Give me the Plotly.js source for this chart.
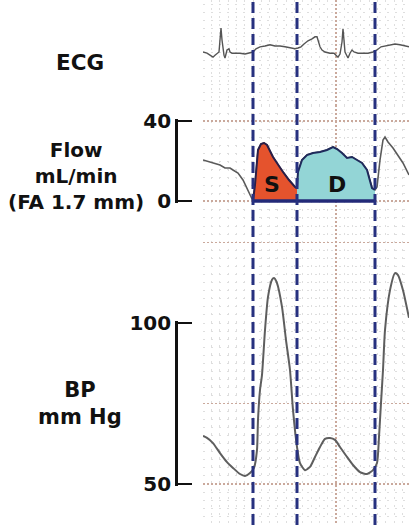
<!DOCTYPE html>
<html><head><meta charset="utf-8">
<script src="https://cdn.plot.ly/plotly-3.0.1.min.js"></script>
<style>html,body{margin:0;padding:0;background:#fff}#chart{width:409px;height:525px}</style>
</head><body><div id="chart"></div>
<script>
// ---------- data (time in arbitrary sample units) ----------
const ecgT = [0,4,7,10,12,14,16,17,18,19,20,21,22,23,24,26,27,29,33,37,42,47,50,53,57,62,67,72,77,82,87,92,95,98,101,105,109,112,114,115,117,119,122,127,131,133,135,137,139,140,141,142,144,145,147,149,151,155,160,165,170,174,178,182,187,192,197,202,206];
const ecgMv = [0,-0.03,-0.08,-0.13,-0.08,-0.03,0,0.30,0.60,0.30,0,-0.08,-0.15,-0.05,0.05,0.08,0,-0.03,-0.03,-0.03,-0.05,-0.03,0,0.08,0.13,0.15,0.18,0.15,0.15,0.13,0.10,0.08,0.10,0.13,0.20,0.28,0.33,0.38,0.38,0.28,0.13,0.05,0,-0.03,-0.03,-0.08,-0.13,-0.05,0.25,0.58,0.30,0,-0.10,-0.15,-0.03,0.05,0,-0.03,-0.03,-0.03,0,0.05,0.13,0.15,0.18,0.20,0.18,0.15,0.13];

const flowT = [0,7,12,17,22,27,30,35,40,45,48,50,52,55,58,61,64,70,75,80,86,92,94,95,99,104,110,117,124,130,134,139,144,149,154,159,164,167,169,172,174,177,180,182,185,190,195,200,206];
const flowMl = [20.5,19.5,19,18,16.5,16.5,15.5,14,10.5,5.5,2,0,8,25.5,28.5,29,28,22,18,14.5,10.5,7,6.5,14.5,20.5,23,24,24.5,25.5,27,26,24,21.5,22,20.5,19,15.5,10.5,6.5,5.5,7,20.5,30.5,32,29.5,26.5,23,19,13];

const bpT = [0,4,10,17,24,30,37,42,47,51,54,55,57,59,62,65,69,71,74,79,83,87,90,94,97,102,107,112,117,122,127,132,137,144,150,157,164,170,174,176,178,180,182,187,192,195,200,205,206];
const bpMmHg = [64.9,64.3,62.7,59.6,56.8,55.0,53.1,52.5,53.4,55.0,60.6,69.9,79.2,83.9,97.8,108.1,113.4,114.0,112.4,105.0,94.7,85.4,73.0,61.5,56.5,54.3,55.3,58.4,61.5,64.0,64.3,63.7,61.5,58.4,55.9,53.7,53.1,54.3,56.5,64.6,75.2,85.4,97.8,110.2,115.5,114.9,110.2,103.1,101.6];

const eventTimes = [50, 94, 172];          // dashed markers: S start, S/D boundary, D end
const flowTicks = [0, 40];
const bpTicks = [50, 100];
const phaseLabels = ['S', 'D'];
const ecgLabel = 'ECG';
const flowLabel = ['Flow', 'mL/min', '(FA 1.7 mm)'];
const bpLabel = ['BP', 'mm Hg'];

// ---------- layout helpers ----------
const W = 409, H = 525;
const px = v => v / W;
const py = v => 1 - v / H;

function slice(t, v, a, b) {
  const xs = [], ys = [];
  t.forEach((tt, i) => { if (tt >= a && tt <= b) { xs.push(tt); ys.push(v[i]); } });
  return {xs, ys};
}
const sPart = slice(flowT, flowMl, eventTimes[0], eventTimes[1]);
const dPart = slice(flowT, flowMl, eventTimes[1], eventTimes[2]);

const minorGrid = {color: '#dedede', width: 1, dash: '2px,6px'};
const majorGridColor = '#caa99c';
const FONT = 'DejaVu Sans, Verdana, sans-serif';

const traces = [
  {x: flowT, y: flowMl, xaxis: 'x', yaxis: 'y2', mode: 'lines',
   line: {color: '#5a5a5a', width: 1.6}, hoverinfo: 'skip', showlegend: false},
  {x: sPart.xs, y: sPart.ys, xaxis: 'x', yaxis: 'y2', mode: 'lines', fill: 'tozeroy',
   fillcolor: '#e5532d', line: {color: '#2a1f48', width: 2}, hoverinfo: 'skip', showlegend: false},
  {x: dPart.xs, y: dPart.ys, xaxis: 'x', yaxis: 'y2', mode: 'lines', fill: 'tozeroy',
   fillcolor: '#93d5d6', line: {color: '#1f2a5c', width: 2}, hoverinfo: 'skip', showlegend: false},
  {x: [eventTimes[0], eventTimes[2]], y: [0, 0], xaxis: 'x', yaxis: 'y2', mode: 'lines',
   line: {color: '#232a78', width: 3.5}, hoverinfo: 'skip', showlegend: false},
  {x: ecgT, y: ecgMv, xaxis: 'x', yaxis: 'y', mode: 'lines',
   line: {color: '#555', width: 1.4}, hoverinfo: 'skip', showlegend: false},
  {x: bpT, y: bpMmHg, xaxis: 'x', yaxis: 'y3', mode: 'lines',
   line: {color: '#5e5e5e', width: 2, shape: 'spline', smoothing: 0.6}, hoverinfo: 'skip', showlegend: false},
  // invisible anchors so the two scale-bar axes get drawn
  {x: [0.5, 0.5], y: flowTicks, xaxis: 'x3', yaxis: 'y4', mode: 'markers',
   marker: {opacity: 0, size: 1}, hoverinfo: 'skip', showlegend: false},
  {x: [0.5, 0.5], y: bpTicks, xaxis: 'x3', yaxis: 'y5', mode: 'markers',
   marker: {opacity: 0, size: 1}, hoverinfo: 'skip', showlegend: false}
];

function dataY(domain, range, majors, minorTick0, minorDtick) {
  return {
    domain: domain, range: range, anchor: 'x', fixedrange: true,
    showline: false, zeroline: false, showticklabels: false, ticks: '',
    tickmode: 'array', tickvals: majors, showgrid: majors.length > 0,
    gridcolor: majorGridColor, gridwidth: 1.5, griddash: '2px,2px',
    minor: {tick0: minorTick0, dtick: minorDtick, showgrid: true,
            gridcolor: minorGrid.color, gridwidth: minorGrid.width, griddash: minorGrid.dash, ticks: ''}
  };
}
// scale bar: pixel span [pTop, pBot] maps to [lo, hi]; pad a little so inside ticks at the ends are kept
function scaleY(pTop, pBot, vals) {
  const lo = vals[0], hi = vals[vals.length - 1];
  const k = (pBot - pTop) / (hi - lo);   // px per unit
  const padPx = 1.8, padU = padPx / k;
  return {
    domain: [py(pBot + padPx), py(pTop - padPx)], range: [lo - padU, hi + padU], anchor: 'x3', fixedrange: true,
    tickmode: 'array', tickvals: vals, ticks: 'inside', ticklen: 14, tickwidth: 2.6, tickcolor: '#111',
    showline: true, linewidth: 2.8, linecolor: '#111', showgrid: false, zeroline: false,
    tickfont: {family: FONT, size: 20, weight: 'bold', color: '#111'}
  };
}

const labelFont = size => ({family: FONT, size: size, weight: 'bold', color: '#111'});
const annotations = [
  {text: ecgLabel, xref: 'paper', yref: 'paper', x: px(80), y: py(62), xanchor: 'center', yanchor: 'middle',
   showarrow: false, font: labelFont(21.5)},
  {text: flowLabel.join('<br>'), xref: 'paper', yref: 'paper', x: px(76), y: py(176), xanchor: 'center', yanchor: 'middle',
   align: 'center', showarrow: false, font: labelFont(20)},
  {text: bpLabel.join('<br>'), xref: 'paper', yref: 'paper', x: px(80), y: py(403), xanchor: 'center', yanchor: 'middle',
   align: 'center', showarrow: false, font: labelFont(21)},
  {text: phaseLabels[0], xref: 'x', yref: 'y2', x: (eventTimes[0] + eventTimes[1]) / 2 - 3, y: 8,
   showarrow: false, font: labelFont(22)},
  {text: phaseLabels[1], xref: 'x', yref: 'y2', x: (eventTimes[1] + eventTimes[2]) / 2 + 1, y: 8,
   showarrow: false, font: labelFont(22)}
];

const shapes = eventTimes.map(t => ({
  type: 'line', xref: 'x', yref: 'paper', x0: t, x1: t, y0: 0, y1: 1, layer: 'above',
  line: {color: '#27317f', width: 3, dash: '11px,5px'}
}));

const layout = {
  width: W, height: H, margin: {l: 0, r: 0, t: 0, b: 0},
  paper_bgcolor: '#fff', plot_bgcolor: 'rgba(0,0,0,0)', showlegend: false,
  xaxis: {domain: [px(203), 1], range: [0, 206], anchor: 'y3', fixedrange: true,
          showline: false, zeroline: false, showticklabels: false, ticks: '',
          tickmode: 'array', tickvals: [133], showgrid: true,
          gridcolor: majorGridColor, gridwidth: 1.5, griddash: '2px,2px',
          minor: {tick0: 133, dtick: 8.3, showgrid: true, gridcolor: minorGrid.color,
                  gridwidth: minorGrid.width, griddash: minorGrid.dash, ticks: ''}},
  yaxis: dataY([py(105), 1], [(52 - 105) / 40, 52 / 40], [], 0, 0.2),
  yaxis2: dataY([py(225), py(105)], [-12, 48], flowTicks, 0, 4),
  yaxis3: dataY([0, py(225)], [50 - 41 / 3.22, 50 + 259 / 3.22], [50, 75, 125], 50, 2.5),
  xaxis3: {domain: [px(178), px(203)], range: [0, 1], anchor: 'y4', visible: true, fixedrange: true,
           showline: false, showgrid: false, zeroline: false, showticklabels: false, ticks: ''},
  yaxis4: scaleY(121, 201, flowTicks),
  yaxis5: scaleY(323, 484, bpTicks),
  annotations: annotations,
  shapes: shapes
};

Plotly.newPlot('chart', traces, layout, {displayModeBar: false, staticPlot: true});
</script></body></html>
